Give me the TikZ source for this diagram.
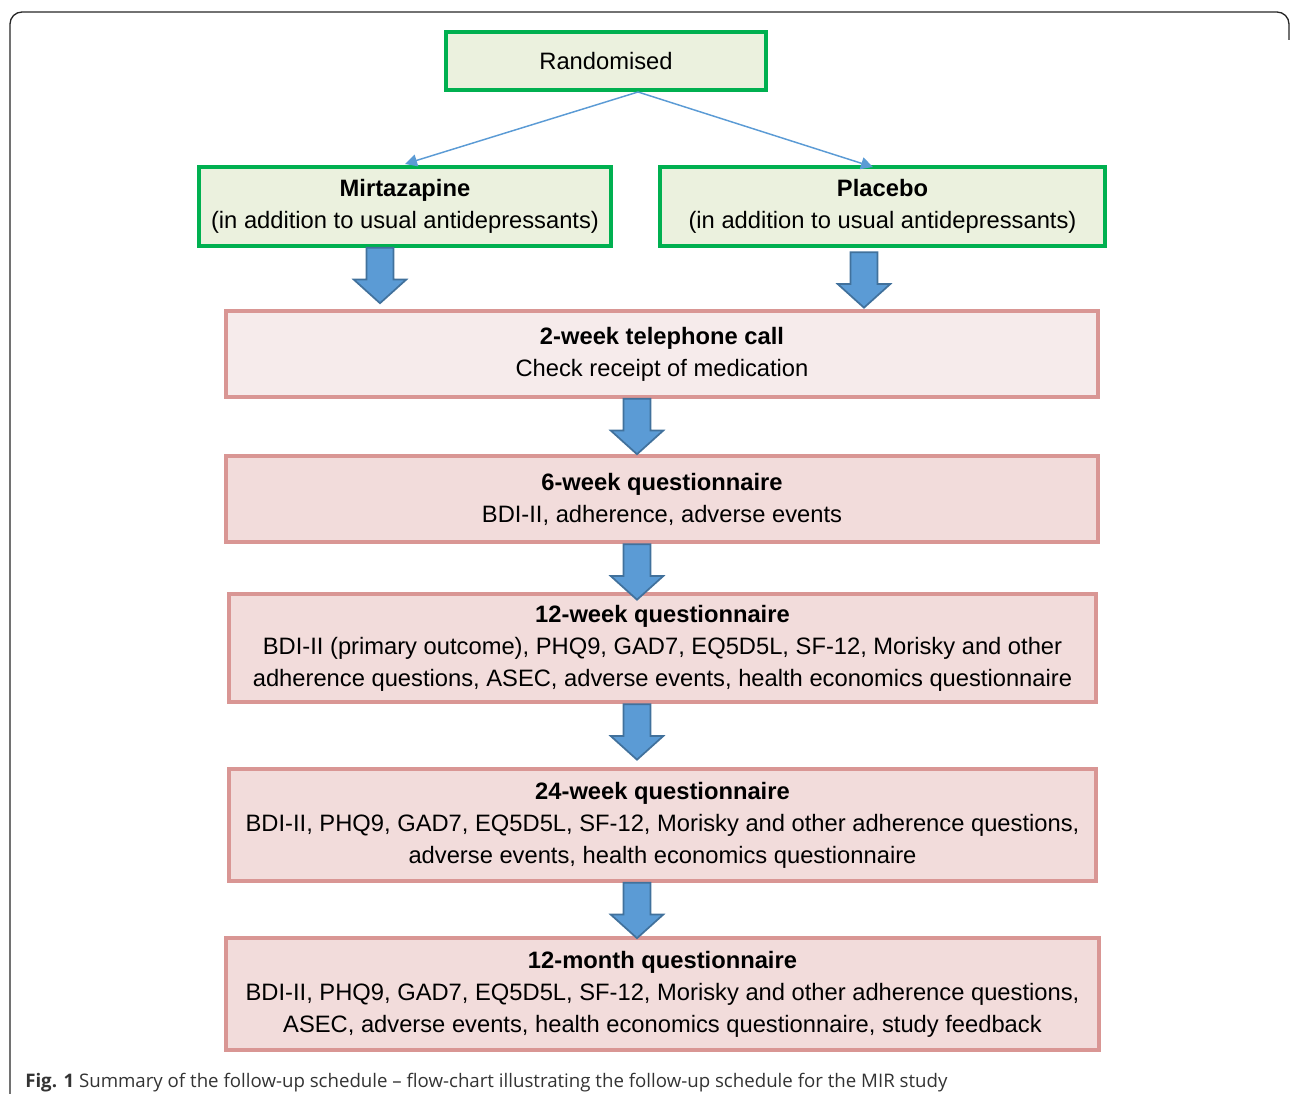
\documentclass[tikz,border=0pt]{standalone}
\usepackage{fontspec}
\setmainfont{Liberation Sans}
\newfontfamily\capfont{Open Sans}
\usepackage{xcolor}
\usetikzlibrary{positioning, arrows.meta, shapes.arrows}

\definecolor{armgreen}{HTML}{00B050}
\definecolor{armfill}{HTML}{EBF1DE}
\definecolor{visitline}{HTML}{D99694}
\definecolor{visitfill}{HTML}{F2DCDB}
\definecolor{callfill}{HTML}{F6EBEB}
\definecolor{flowblue}{HTML}{5B9BD5}
\definecolor{flowedge}{HTML}{41719C}

\tikzset{
  armbox/.style={draw=armgreen, line width=3pt, fill=armfill, align=center,
    inner sep=0pt, font=\fontsize{17.8}{24}\selectfont},
  visitbox/.style={draw=visitline, line width=3pt, fill=visitfill, align=center,
    inner sep=0pt, font=\fontsize{17.8}{24}\selectfont},
  thinarrow/.style={draw=flowblue, line width=1.1pt, -{Triangle[length=9pt,width=9pt]}},
  blockarr/.style={shape=single arrow, draw=flowedge, fill=flowblue, line width=1.3pt,
    rotate=-90, inner xsep=0pt, inner ysep=9.4pt, minimum height=41.5pt,
    single arrow head extend=9.6pt, single arrow tip angle=96}
}

\begin{document}
\begin{tikzpicture}[x=0.75pt, y=-0.75pt]
  \useasboundingbox (0,0) rectangle (1290,1094);
  % outer frame
  \draw[line width=1pt, black!85, rounded corners=9pt] (10,1100) -- (10,12) -- (1289,12) -- (1289,40);

  % arms
  \node[armbox, minimum width=240pt, minimum height=43.5pt] (rand) at (606,61) {Randomised};
  \node[armbox, minimum width=309pt, minimum height=59.25pt] (mirt) at (405,206.5)
    {\textbf{Mirtazapine}\\(in addition to usual antidepressants)};
  \node[armbox, minimum width=333.75pt, minimum height=59.25pt] (plac) at (882.5,206.5)
    {\textbf{Placebo}\\(in addition to usual antidepressants)};

  % follow-up visits
  \node[visitbox, fill=callfill, minimum width=654pt, minimum height=64.5pt] (call) at (662,354)
    {\textbf{2-week telephone call}\\Check receipt of medication};
  \node[visitbox, minimum width=654pt, minimum height=64.5pt] (six) at (662,499)
    {\textbf{6-week questionnaire}\\BDI-II, adherence, adverse events};
  \node[visitbox, minimum width=650.25pt, minimum height=81pt] (twelve) at (662.5,648)
    {\textbf{12-week questionnaire}\\BDI-II (primary outcome), PHQ9, GAD7, EQ5D5L, SF-12, Morisky and other\\adherence questions, ASEC, adverse events, health economics questionnaire};
  \node[visitbox, minimum width=650.25pt, minimum height=84pt] (tfour) at (662.5,825)
    {\textbf{24-week questionnaire}\\BDI-II, PHQ9, GAD7, EQ5D5L, SF-12, Morisky and other adherence questions,\\adverse events, health economics questionnaire};
  \node[visitbox, minimum width=654.75pt, minimum height=84pt] (month) at (662.5,994)
    {\textbf{12-month questionnaire}\\BDI-II, PHQ9, GAD7, EQ5D5L, SF-12, Morisky and other adherence questions,\\ASEC, adverse events, health economics questionnaire, study feedback};

  % randomisation split
  \coordinate (split) at ([xshift=24pt]rand.south);
  \draw[thinarrow] (split) -- (405,164);
  \draw[thinarrow] (split) -- (873,167);

  % block arrows between stages
  \node[blockarr] (a1) at (380,269.5) {};
  \node[blockarr] (a2) at (864,274) {};
  \node[blockarr] (a3) at (637,420.5) {};
  \node[blockarr] (a4) at (637,566) {};
  \node[blockarr] (a5) at (637,726) {};
  \node[blockarr] (a6) at (637,904.5) {};

  % caption
  \node[anchor=base west, inner sep=0pt, text=black!80, font=\capfont\fontsize{14}{16}\selectfont] (cap) at (25,1087)
    {\textbf{Fig. 1} Summary of the follow-up schedule – flow-chart illustrating the follow-up schedule for the MIR study};
\end{tikzpicture}
\end{document}
